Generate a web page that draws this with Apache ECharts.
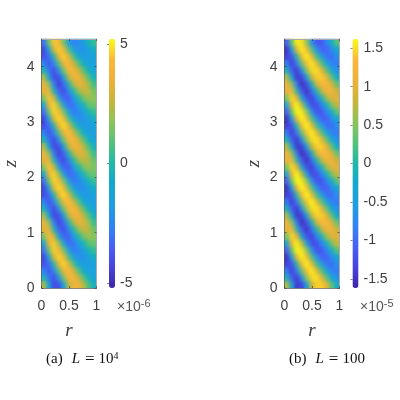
<!DOCTYPE html>
<html><head><meta charset="utf-8">
<style>html,body{margin:0;padding:0;background:#fff}#c{width:400px;height:400px}
canvas[data-zr-dom-id="zr_1"]{filter:blur(1.9px);clip-path:path('M41.5 39h55v249h-55z M284.5 39h55v249h-55z')}
</style>
<script src="https://cdn.jsdelivr.net/npm/echarts@6/dist/echarts.min.js"></script>
</head><body><div id="c"></div>
<script>
const rCells = ['.05','.14','.23','.32','.41','.50','.59','.68','.77','.86','.95'];
const zCells = ['.06','.19','.31','.44','.56','.69','.81','.94','1.06','1.19','1.31','1.44','1.56','1.69','1.81','1.94','2.06','2.19','2.31','2.44','2.56','2.69','2.81','2.94','3.06','3.19','3.31','3.44','3.56','3.69','3.81','3.94','4.06','4.19','4.31','4.44'];
const rTicks = [0, 0.5, 1];
const zTicks = [0, 1, 2, 3, 4];
const barTicksA = [-5, 0, 5];
const barTicksB = [-1.5, -1, -0.5, 0, 0.5, 1, 1.5];
const parula = ['#3e26a8','#4743e0','#4760f7','#2f85f5','#1f9fe0','#12a9d0','#1eb8aa','#55c27a','#8cc45a','#c8b53a','#eeb13a','#fab83a','#f9fb15'];
const valuesA = [
[2.3,-.9,-4.1,-4.0,-1.2,2.3,3.7,3.6,2.3,.7,-.5],
[-.1,-2.9,-4.1,-2.1,1.4,4.1,4.0,2.6,.8,-.5,-1.3],
[-2.4,-3.8,-2.6,.8,3.8,4.3,2.8,.8,-.8,-1.5,-1.6],
[-4.0,-3.2,0,3.5,4.7,3.1,.6,-1.0,-1.8,-1.8,-1.3],
[-4.2,-1.3,2.9,4.7,3.8,.7,-1.4,-2.2,-2.2,-1.4,-.5],
[-3.1,1.2,4.6,4.2,1.4,-1.6,-2.8,-2.5,-1.5,-.3,.4],
[-1.0,3.5,4.6,2.0,-1.2,-3.2,-2.9,-1.6,-.2,1.0,1.2],
[1.4,4.4,2.9,-1.0,-3.3,-3.5,-1.8,0,1.4,2.0,1.6],
[3.2,3.7,0,-3.3,-4.1,-2.4,.1,1.9,2.6,2.4,1.2],
[3.6,1.7,-2.6,-4.4,-3.3,-.2,2.3,3.4,3.1,1.9,.4],
[2.2,-.9,-4.2,-4.1,-1.2,2.3,3.8,3.7,2.4,.8,-.5],
[-.2,-2.9,-4.2,-2.2,1.4,4.2,4.1,2.7,.8,-.5,-1.4],
[-2.5,-3.9,-2.7,.8,3.9,4.4,2.8,.8,-.9,-1.6,-1.7],
[-4.1,-3.3,0,3.6,4.8,3.2,.6,-1.1,-1.9,-1.9,-1.4],
[-4.3,-1.3,3.0,4.8,3.9,.7,-1.5,-2.3,-2.3,-1.5,-.5],
[-3.2,1.2,4.7,4.3,1.4,-1.7,-2.9,-2.6,-1.6,-.3,.4],
[-1.0,3.6,4.7,2.0,-1.3,-3.3,-3.0,-1.6,-.2,1.0,1.2],
[1.5,4.5,2.9,-1.1,-3.4,-3.6,-1.8,0,1.4,1.9,1.5],
[3.3,3.8,0,-3.4,-4.2,-2.5,.1,1.9,2.5,2.3,1.1],
[3.7,1.7,-2.7,-4.5,-3.4,-.2,2.3,3.3,3.0,1.8,.4],
[2.3,-1.0,-4.2,-4.1,-1.3,2.4,3.8,3.6,2.3,.7,-.6],
[-.2,-3.0,-4.2,-2.2,1.4,4.2,4.0,2.6,.8,-.6,-1.4],
[-2.5,-3.9,-2.7,.8,3.9,4.4,2.8,.8,-.8,-1.5,-1.7],
[-4.1,-3.3,0,3.6,4.8,3.2,.6,-1.0,-1.8,-1.9,-1.4],
[-4.3,-1.4,3.0,4.8,3.9,.7,-1.5,-2.2,-2.2,-1.5,-.5],
[-3.2,1.2,4.7,4.3,1.4,-1.7,-2.8,-2.5,-1.5,-.3,.4],
[-1.1,3.6,4.7,2.0,-1.3,-3.2,-2.9,-1.6,-.2,1.0,1.3],
[1.4,4.5,2.9,-1.1,-3.4,-3.5,-1.8,0,1.4,2.0,1.7],
[3.3,3.8,0,-3.4,-4.1,-2.4,.1,1.9,2.6,2.5,1.3],
[3.6,1.7,-2.6,-4.5,-3.3,-.2,2.3,3.4,3.1,2.0,.5],
[2.3,-.9,-4.1,-4.0,-1.2,2.3,3.7,3.6,2.4,.8,-.5],
[-.1,-2.9,-4.1,-2.1,1.4,4.1,3.8,2.6,.8,-.5,-1.3],
[-2.4,-3.8,-2.6,.8,3.8,4.2,2.6,.8,-.8,-1.5,-1.6],
[-4.0,-3.2,0,3.5,4.6,3.1,.6,-1.0,-1.8,-1.8,-1.3],
[-4.2,-1.3,2.9,4.6,3.7,.7,-1.4,-2.1,-2.2,-1.4,-.5],
[-3.1,1.2,4.5,4.1,1.4,-1.6,-2.7,-2.4,-1.5,-.3,.4]
];
const valuesB = [
[.7,-.36,-1.44,-1.36,-.44,.8,1.43,1.43,1.0,.3,-.25],
[-.05,-1.08,-1.44,-.65,.54,1.46,1.52,1.01,.33,-.32,-.69],
[-.84,-1.4,-.86,.36,1.36,1.58,1.04,.26,-.41,-.82,-.86],
[-1.39,-1.19,.05,1.27,1.6,1.12,.18,-.53,-.94,-.97,-.69],
[-1.49,-.52,1.05,1.6,1.36,.25,-.65,-1.07,-1.07,-.73,-.25],
[-1.1,.36,1.6,1.52,.54,-.65,-1.2,-1.17,-.77,-.2,.33],
[-.38,1.15,1.6,.76,-.44,-1.26,-1.25,-.78,-.14,.46,.8],
[.44,1.48,1.05,-.27,-1.21,-1.37,-.8,-.08,.62,.98,.99],
[1.02,1.25,.06,-1.12,-1.5,-.94,0,.75,1.18,1.14,.8],
[1.13,.55,-.86,-1.53,-1.21,-.13,.87,1.32,1.31,.9,.33],
[.69,-.37,-1.46,-1.38,-.45,.82,1.45,1.44,1.01,.3,-.26],
[-.06,-1.1,-1.46,-.66,.55,1.49,1.54,1.03,.34,-.33,-.71],
[-.86,-1.42,-.88,.37,1.38,1.6,1.06,.27,-.43,-.84,-.88],
[-1.41,-1.21,.05,1.29,1.61,1.14,.19,-.54,-.96,-.99,-.71],
[-1.51,-.53,1.07,1.61,1.38,.26,-.67,-1.09,-1.09,-.75,-.26],
[-1.12,.37,1.61,1.54,.55,-.67,-1.22,-1.19,-.79,-.21,.34],
[-.39,1.17,1.61,.77,-.45,-1.29,-1.27,-.8,-.15,.47,.82],
[.45,1.5,1.06,-.28,-1.23,-1.4,-.82,-.09,.63,1.0,1.01],
[1.04,1.27,.06,-1.14,-1.52,-.96,0,.76,1.2,1.15,.81],
[1.15,.56,-.88,-1.55,-1.23,-.14,.89,1.34,1.32,.91,.34],
[.71,-.37,-1.46,-1.38,-.45,.81,1.45,1.44,1.0,.31,-.26],
[-.06,-1.1,-1.46,-.66,.55,1.48,1.53,1.02,.33,-.33,-.7],
[-.85,-1.42,-.87,.37,1.38,1.59,1.05,.26,-.42,-.83,-.87],
[-1.41,-1.21,.05,1.29,1.61,1.13,.18,-.54,-.95,-.98,-.7],
[-1.51,-.53,1.07,1.61,1.37,.25,-.66,-1.08,-1.08,-.74,-.25],
[-1.11,.37,1.61,1.53,.54,-.66,-1.21,-1.18,-.78,-.2,.34],
[-.38,1.17,1.61,.77,-.45,-1.28,-1.26,-.79,-.14,.47,.81],
[.45,1.5,1.06,-.27,-1.22,-1.38,-.81,-.08,.63,.99,1.0],
[1.03,1.26,.06,-1.13,-1.51,-.95,0,.76,1.19,1.15,.81],
[1.14,.56,-.87,-1.54,-1.22,-.13,.88,1.33,1.32,.91,.33],
[.7,-.36,-1.44,-1.36,-.44,.8,1.43,1.43,1.0,.3,-.25],
[-.05,-1.08,-1.44,-.65,.54,1.46,1.5,1.01,.33,-.32,-.69],
[-.84,-1.4,-.86,.36,1.36,1.56,1.02,.26,-.41,-.82,-.86],
[-1.39,-1.19,.05,1.27,1.58,1.1,.18,-.53,-.94,-.97,-.69],
[-1.49,-.52,1.05,1.58,1.34,.25,-.65,-1.06,-1.07,-.73,-.25],
[-1.1,.36,1.58,1.5,.54,-.65,-1.19,-1.16,-.77,-.2,.33]
];
const GREY='#404040', SANS='"Liberation Sans",Arial,sans-serif', SERIF='"Liberation Serif",serif';
const toCells = m => m.flatMap((row,j)=>row.map((v,i)=>[i,j,v]));
const panels=[
 {plot:[41.5,55],bar:109,vals:valuesA,lim:5.2,ticks:barTicksA},
 {plot:[284.5,55],bar:352.5,vals:valuesB,lim:1.62,ticks:barTicksB}
];
const TOP=39,H=249,AX=3;
const grid=[],xAxis=[],yAxis=[],series=[],visualMap=[];
panels.forEach((p,idx)=>{
  const g=grid.length;
  grid.push({left:p.plot[0],top:TOP,width:p.plot[1],height:H,show:false,outerBoundsMode:'none'});
  const xi=xAxis.length, yi=yAxis.length;
  xAxis.push({gridIndex:g,type:'category',data:rCells,show:false});
  yAxis.push({gridIndex:g,type:'category',data:zCells,show:false});
  const common={gridIndex:g,type:'value',zlevel:AX,z:5,splitLine:{show:false}};
  xAxis.push({...common,position:'bottom',min:0,max:1,name:'r',nameLocation:'middle',nameGap:33,
    nameTextStyle:{fontFamily:SERIF,fontStyle:'italic',fontSize:19,color:GREY},
    axisLine:{lineStyle:{color:GREY,width:.6}},
    axisTick:{inside:true,length:2,customValues:rTicks,lineStyle:{color:'#333',width:.6}},
    axisLabel:{customValues:rTicks,fontFamily:SANS,fontSize:14,color:GREY,margin:11,showMinLabel:true,showMaxLabel:true}});
  xAxis.push({...common,position:'top',min:0,max:1,axisLine:{lineStyle:{color:'#aaa',width:1}},
    axisTick:{inside:true,length:2,customValues:rTicks,lineStyle:{color:'#333',width:.6}},axisLabel:{show:false}});
  yAxis.push({...common,position:'left',min:0,max:4.5,name:'z',nameLocation:'middle',nameGap:21,nameRotate:90,
    nameTextStyle:{fontFamily:SERIF,fontStyle:'italic',fontSize:19,color:GREY},
    axisLine:{lineStyle:{color:GREY,width:.6}},
    axisTick:{inside:true,length:2,customValues:zTicks,lineStyle:{color:'#333',width:.6}},
    axisLabel:{customValues:zTicks,fontFamily:SANS,fontSize:14,color:GREY,margin:7,showMinLabel:true}});
  yAxis.push({...common,position:'right',min:0,max:4.5,axisLine:{lineStyle:{color:'#aaa',width:1}},
    axisTick:{inside:true,length:2,customValues:zTicks,lineStyle:{color:'#333',width:.6}},axisLabel:{show:false}});
  series.push({type:'heatmap',xAxisIndex:xi,yAxisIndex:yi,data:toCells(p.vals),progressive:0,silent:true,itemStyle:{borderWidth:0}});
  series.push({type:'heatmap',zlevel:1,xAxisIndex:xi,yAxisIndex:yi,data:toCells(p.vals),progressive:0,silent:true,itemStyle:{borderWidth:0}});
  visualMap.push({type:'continuous',seriesIndex:[idx*2,idx*2+1],min:-p.lim,max:p.lim,left:p.bar,top:TOP,itemWidth:6,itemHeight:H,padding:0,
    calculable:false,realtime:false,showLabel:false,text:null,inRange:{color:parula}});
  const gb=grid.length;
  grid.push({left:p.bar,top:TOP,width:6,height:H,show:false,outerBoundsMode:'none'});
  xAxis.push({gridIndex:gb,type:'value',show:false,min:0,max:1});
  yAxis.push({gridIndex:gb,type:'value',position:'right',min:-p.lim,max:p.lim,zlevel:AX,z:5,splitLine:{show:false},
    axisLine:{show:false},
    axisTick:{inside:true,length:2,customValues:p.ticks,lineStyle:{color:'#333',width:.6}},
    axisLabel:{customValues:p.ticks,fontFamily:SANS,fontSize:14,color:GREY,margin:5}});
});
const expRich={m:{fontFamily:SANS,fontSize:14,color:'#555',fontWeight:'normal'},s:{fontFamily:SANS,fontSize:11,color:'#555',fontWeight:'normal',padding:[0,0,7,0]}};
const capBase={fontFamily:SERIF,fontSize:15,color:'#111',fontWeight:'normal'};
const capRich={m:capBase,g:{...capBase,padding:[0,9,0,0]},i:{...capBase,fontStyle:'italic',padding:[0,5,0,0]},e:{...capBase,fontSize:17,padding:[0,4,0,0]},s:{...capBase,fontSize:10,padding:[0,0,6,0]}};
const title=[
 {text:'{m|×10}{s|-6}',left:117,top:298,padding:0,textStyle:{rich:expRich}},
 {text:'{m|×10}{s|-5}',left:360,top:298,padding:0,textStyle:{rich:expRich}},
 {text:'{g|(a)}{i|L}{e|=}{m|10}{s|4}',left:46,top:351,padding:0,textStyle:{rich:capRich}},
 {text:'{g|(b)}{i|L}{e|=}{m|100}',left:289,top:351,padding:0,textStyle:{rich:capRich}}
];
const chart=echarts.init(document.getElementById('c'),null,{renderer:'canvas'});
chart.setOption({animation:false,backgroundColor:'#fff',tooltip:{show:false},title,grid,xAxis,yAxis,visualMap,series});
</script></body></html>
